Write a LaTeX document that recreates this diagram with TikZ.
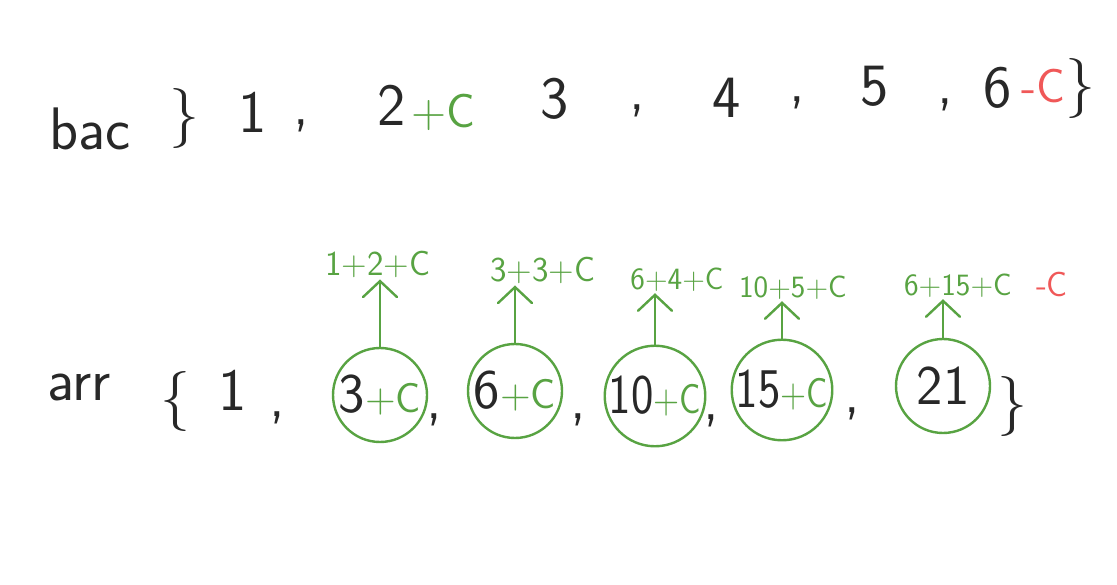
\documentclass[tikz,border=0pt]{standalone}
\usepackage{fontspec}
\usetikzlibrary{arrows.meta}
\definecolor{ink}{RGB}{40,40,40}
\definecolor{grn}{RGB}{88,163,66}
\definecolor{rd}{RGB}{240,88,88}
\begin{document}
\begin{tikzpicture}[x=1pt,y=-1pt,
  t/.style={font=\sffamily\fontsize{60}{60}\selectfont, text=ink, anchor=base, inner sep=0pt},
  g/.style={t, font=\sffamily\fontsize{48}{48}\selectfont, text=grn},
  rr/.style={g, text=rd},
  lab/.style={font=\sffamily\fontsize{35}{35}\selectfont, text=grn, inner sep=1pt, anchor=base},
  slab/.style={lab, font=\sffamily\fontsize{31}{31}\selectfont},
  ring/.style={circle, draw=grn, line width=2.4pt, inner sep=0pt, minimum size=94pt, text=ink,
    font=\sffamily\fontsize{56}{56}\selectfont},
  up/.style={draw=grn, line width=2.4pt, line cap=round, -{Straight Barb[length=16pt,width=34pt,line cap=round]}},
]
\fill[white] (0,0) rectangle (1117,585);
\useasboundingbox (0,0) rectangle (1117,585);
\newcommand{\pc}{\fontsize{42}{42}\selectfont\color{grn}+C}
% top row
\node[t] (bac) at (90,150) {bac};
\node[t] (ob1) at (184,134) {\}};
\node[t] (b1) at (253,133) {1};
\node[t] (cm1) at (301,125) {,};
\node[t] (b2) at (392,126) {2};
\node[g] (p2) at (443,128) {+C};
\node[t] (b3) at (555,119) {3};
\node[t] (cm2) at (637,110) {,};
\node[t] (b4) at (727,118) {4};
\node[t] (cm3) at (797,102) {,};
\node[t] (b5) at (875,106) {5};
\node[t] (cm4) at (945,104) {,};
\node[t] (b6) at (998,108) {6};
\node[rr] (m6) at (1043,103) {-C};
\node[t] (cb1) at (1080,104) {\}};
% bottom row
\node[t] (arr) at (79,400) {arr};
\node[t] (ob2) at (175,417) {\{};
\node[t] (a1) at (233,410) {1};
\node[t] (cm5) at (277,416) {,};
\node[ring] (c1) at (380,395) {3\pc};
\node[t] (cm6) at (434,418) {,};
\node[ring] (c2) at (515,391) {6\pc};
\node[t] (cm7) at (578,418) {,};
\node[ring, minimum size=98pt] (c3) at (655,396) {\scalebox{0.85}[1]{10\pc}};
\node[t] (cm8) at (711,420) {,};
\node[ring, minimum size=92pt] (c4) at (782,390) {\scalebox{0.85}[1]{15\pc}};
\node[t] (cm9) at (852,413) {,};
\node[ring] (c5) at (943,386) {21};
\node[t] (cb2) at (1012,421) {\}};
% labels
\node[lab] (l1) at (378,276) {1+2+C};
\node[lab] (l2) at (543,282) {3+3+C};
\node[slab] (l3) at (677,290) {6+4+C};
\node[slab] (l4) at (793,298) {10+5+C};
\node[slab] (l5) at (958,296) {6+15+C};
\node[lab, text=rd] (l5m) at (1052,297) {-C};
% arrows
\draw[up] (c1.north) -- (c1.north |- l1.south);
\draw[up] (c2.north) -- (c2.north |- l2.south);
\draw[up] (c3.north) -- (c3.north |- l3.south);
\draw[up] (c4.north) -- (c4.north |- l4.south);
\draw[up] (c5.north) -- (c5.north |- l5.south);
\end{tikzpicture}
\end{document}
